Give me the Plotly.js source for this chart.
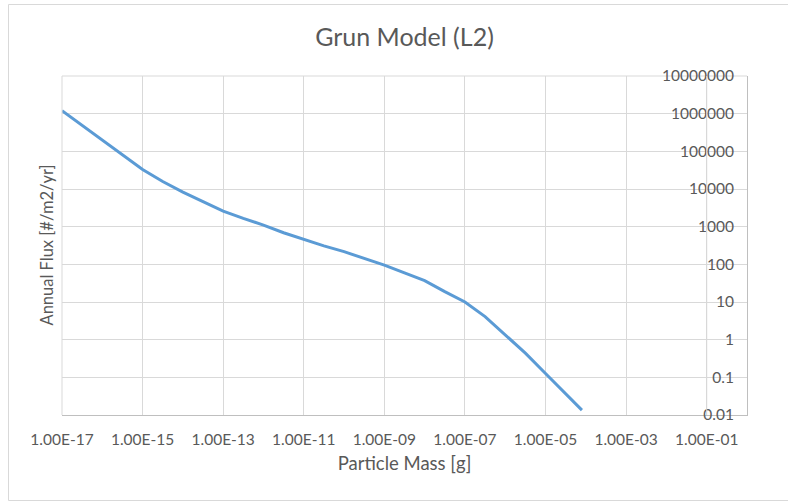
<!DOCTYPE html>
<html>
<head>
<meta charset="utf-8">
<script src="https://cdn.plot.ly/plotly-3.0.1.min.js"></script>
<style>html,body{margin:0;padding:0;background:#fff;}#chart{width:788px;height:502px;}</style>
</head>
<body>
<div id="chart"></div>
<script>
// Particle mass [g]
const mass = [1e-17, 3.16e-17, 1e-16, 3.16e-16, 1e-15, 3.16e-15, 1e-14, 3.16e-14, 1e-13, 3.16e-13,
              1e-12, 3.16e-12, 1e-11, 3.16e-11, 1e-10, 3.16e-10, 1e-9, 3.16e-9, 1e-8, 3.16e-8,
              1e-7, 3.16e-7, 1e-6, 3.16e-6, 1e-5, 8e-5];
// Annual flux [#/m2/yr]
const flux = [1.2e6, 4.9e5, 2.0e5, 8.1e4, 3.3e4, 1.58e4, 8.3e3, 4.6e3, 2.6e3, 1.66e3,
              1.1e3, 690, 460, 310, 217, 145, 95, 59, 37, 18.8,
              10, 4.1, 1.35, 0.44, 0.126, 0.0135];
const xTickVals = [1e-17, 1e-15, 1e-13, 1e-11, 1e-9, 1e-7, 1e-5, 1e-3, 1e-1];
const xTickText = ["1.00E-17", "1.00E-15", "1.00E-13", "1.00E-11", "1.00E-09", "1.00E-07", "1.00E-05", "1.00E-03", "1.00E-01"];
const yTickVals = [1e7, 1e6, 1e5, 1e4, 1e3, 100, 10, 1, 0.1, 0.01];
const yTickText = ["10000000", "1000000", "100000", "10000", "1000", "100", "10", "1", "0.1", "0.01"];

const FONT = "Lato, 'Open Sans', sans-serif";
const GRID = "#d9d9d9";
const W = 788, H = 502, L = 62, R = 41, T = 76, B = 87;
const pw = W - L - R, ph = H - T - B;
const xRange = [-17, 0], yRange = [-2, 7];
function px2x(p) { return (p - L) / pw; }
function py2y(p) { return (H - B - p) / ph; }

const trace = {
  x: mass, y: flux, type: "scatter", mode: "lines",
  line: {color: "#5b9bd5", width: 3}, hoverinfo: "skip"
};
// same data on the label-carrying overlay axis, fully transparent
const ghost = {
  x: mass, y: flux, type: "scatter", mode: "lines", yaxis: "y2",
  line: {color: "rgba(0,0,0,0)", width: 1}, opacity: 0, hoverinfo: "skip"
};

// Plotly drops the grid lines at the first tick (range edge) and under the in-plot y labels;
// redraw those two from the tick values, mapped onto the plot fraction of the x range.
const edgeTicks = [xTickVals[0], xTickVals[xTickVals.length - 1]];
const gridShapes = edgeTicks.map(v => {
  const f = (Math.log10(v) - xRange[0]) / (xRange[1] - xRange[0]);
  return {
    type: "line", xref: "paper", yref: "paper",
    x0: f, x1: f, y0: 0, y1: 1,
    line: {color: GRID, width: 1}, layer: "above"
  };
});

const layout = {
  width: W, height: H,
  margin: {l: L, r: R, t: T, b: B, pad: 0},
  paper_bgcolor: "#ffffff", plot_bgcolor: "rgba(0,0,0,0)",
  showlegend: false,
  font: {family: FONT, color: "#595959"},
  title: {
    text: "Grun Model (L2)",
    font: {family: FONT, size: 25, color: "#595959"},
    x: (L + pw / 2) / W, xanchor: "center", xref: "container",
    y: 1 - 37 / H, yanchor: "middle", yref: "container"
  },
  xaxis: {
    type: "log", range: xRange,
    tickvals: xTickVals, ticktext: xTickText,
    showgrid: true, gridcolor: GRID, gridwidth: 1,
    showline: true, linecolor: "#bfbfbf", linewidth: 1,
    ticks: "", ticklabelstandoff: 10,
    tickfont: {family: FONT, size: 15.5, color: "#595959"},
    zeroline: false, fixedrange: true,
    title: {text: "Particle Mass [g]", font: {family: FONT, size: 18.5, color: "#595959"}, standoff: 10}
  },
  yaxis: {
    type: "log", range: yRange, side: "right",
    tickvals: yTickVals, showticklabels: false,
    showgrid: true, gridcolor: GRID, gridwidth: 1,
    showline: true, linecolor: "#bfbfbf", linewidth: 1,
    ticks: "", zeroline: false, fixedrange: true
  },
  yaxis2: {
    type: "log", range: yRange, overlaying: "y", side: "left",
    anchor: "free", position: 1,
    tickvals: yTickVals, ticktext: yTickText,
    showgrid: false, showline: false, ticks: "", ticklabelstandoff: 13,
    tickfont: {family: FONT, size: 15.5, color: "#595959"},
    zeroline: false, fixedrange: true
  },
  annotations: [{
    text: "Annual Flux [#/m2/yr]",
    xref: "paper", yref: "paper",
    x: px2x(46.5), y: py2y(245),
    xanchor: "center", yanchor: "middle",
    textangle: -90, showarrow: false,
    font: {family: FONT, size: 16.5, color: "#595959"}
  }],
  shapes: [
    {type: "rect", xref: "paper", yref: "paper",
     x0: px2x(8.5), x1: px2x(795), y0: py2y(4.5), y1: py2y(500.5),
     line: {color: GRID, width: 1}, fillcolor: "rgba(0,0,0,0)", layer: "below"},
    {type: "line", xref: "paper", yref: "paper", x0: 0, x1: 1, y0: 1, y1: 1,
     line: {color: GRID, width: 1}, layer: "below"}
  ].concat(gridShapes)
};

Plotly.newPlot("chart", [trace, ghost], layout, {staticPlot: true, displayModeBar: false});
</script>
</body>
</html>
